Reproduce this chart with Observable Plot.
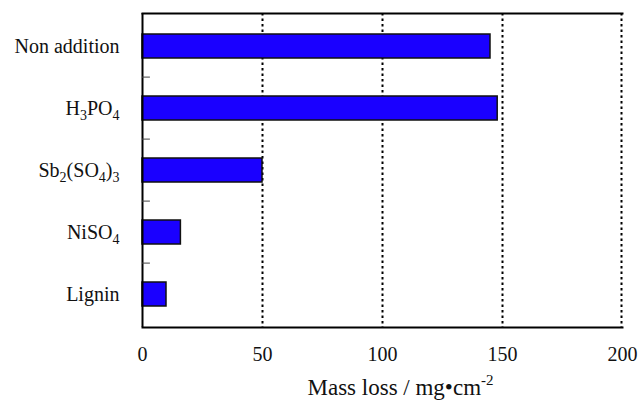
<!DOCTYPE html>
<html>
<head>
<meta charset="utf-8">
<script src="https://cdn.jsdelivr.net/npm/d3@7"></script>
<script src="https://cdn.jsdelivr.net/npm/@observablehq/plot@0.6"></script>
<style>
  html, body { margin: 0; padding: 0; background: #fff; overflow: hidden; }
  #chart svg { display: block; }
  #chart svg text { font-family: "Liberation Serif", "Times New Roman", serif; }
</style>
</head>
<body>
<div id="chart"></div>
<script>
// Additives, top to bottom (digits are written as chemical subscripts)
const additives = ["Non addition", "H3PO4", "Sb2(SO4)3", "NiSO4", "Lignin"];
// Mass loss per additive, mg·cm⁻²
const massLoss = [145, 148, 50, 16, 10];
// Axis ticks and dotted reference lines
const xTicks = [0, 50, 100, 150, 200];
const gridLines = [50, 100, 150];
const xMax = 200;

const data = additives.map((name, i) => ({name, value: massLoss[i]}));

const H = 401, mTop = 13, mBottom = 74;
const step = (H - mTop - mBottom) / additives.length;

const chart = Plot.plot({
  width: 638,
  height: H,
  marginLeft: 142,
  marginRight: 16,
  marginTop: mTop,
  marginBottom: mBottom,
  style: {fontFamily: "Liberation Serif", fontSize: "20px", color: "#111", background: "#fff"},
  x: {domain: [0, xMax]},
  y: {domain: additives, paddingInner: 0.62, paddingOuter: 0.31},
  marks: [
    Plot.ruleX(gridLines, {stroke: "#000", strokeWidth: 2, strokeDasharray: "2.5,3"}),
    // right edge of the frame, dotted like the grid
    Plot.ruleX([xMax], {stroke: "#000", strokeWidth: 2, strokeDasharray: "2.5,3", dx: -1}),
    Plot.barX(data, {x: "value", y: "name", fill: "#1a00ff", stroke: "#111", strokeWidth: 1.5}),
    Plot.frame({anchor: "top", stroke: "#000", strokeWidth: 2}),
    Plot.frame({anchor: "bottom", stroke: "#000", strokeWidth: 2}),
    Plot.ruleX([0], {stroke: "#000", strokeWidth: 2}),
    // small inward ticks on the category boundaries
    Plot.ruleY(additives.slice(1), {x1: 0, x2: 3.3, dy: -step / 2, stroke: "#444", strokeWidth: 1}),
    Plot.axisY({tickSize: 0, tickPadding: 23, label: null}),
    Plot.axisX({ticks: xTicks, tickSize: 0, tickPadding: 19, label: "Mass loss / mg•cm", labelAnchor: "center", labelOffset: 67, labelArrow: "none"})
  ]
});

// Chemical formulas: render digits as subscripts
d3.select(chart).selectAll('g[aria-label="y-axis tick label"] text').each(function() {
  const t = d3.select(this);
  const s = t.text();
  t.text(null);
  const parts = s.split(/(\d+)/).filter(p => p.length);
  let lowered = false;
  for (const p of parts) {
    const isSub = /^\d+$/.test(p);
    const ts = t.append("tspan").text(p);
    if (isSub) { ts.attr("font-size", "14px").attr("dy", "5"); lowered = true; }
    else if (lowered) { ts.attr("dy", "-5"); lowered = false; }
  }
});

// Unit exponent on the x-axis label
d3.select(chart).selectAll('g[aria-label="x-axis label"] text').each(function() {
  const t = d3.select(this).attr("font-size", "23px").attr("dx", 18);
  t.append("tspan").attr("font-size", "15px").attr("dy", "-10").text("-2");
});

document.getElementById("chart").appendChild(chart);
</script>
</body>
</html>
